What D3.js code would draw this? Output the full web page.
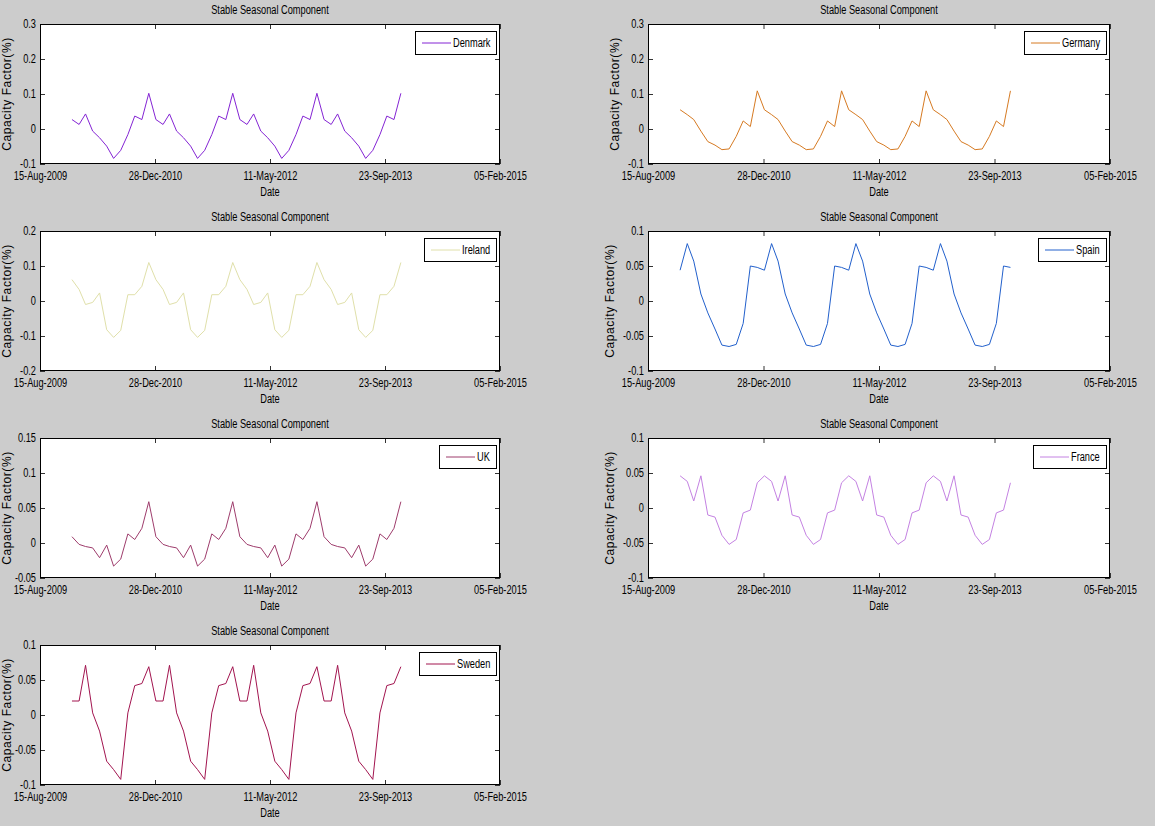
<!DOCTYPE html>
<html>
<head>
<meta charset="utf-8">
<script src="https://cdn.jsdelivr.net/npm/d3@7"></script>
<style>
  html, body { margin: 0; padding: 0; background: #cccccc; }
  svg { display: block; }
</style>
</head>
<body>
<svg id="chart" width="1155" height="826"></svg>
<script>
// ---------------- DATA ----------------
const countries = ["Denmark", "Germany", "Ireland", "Spain", "UK", "France", "Sweden"];
const seriesColors = ["#8424d4", "#d67a22", "#e0e0aa", "#2260cc", "#9e3c6c", "#c482e2", "#a2144f"];

// Monthly stable seasonal component, Jan 2010 .. Dec 2013 (48 months)
const denmark = [
  0.027, 0.013, 0.043, -0.006, -0.025, -0.049, -0.084, -0.061, -0.016, 0.037, 0.027, 0.102,
  0.027, 0.013, 0.043, -0.006, -0.025, -0.049, -0.084, -0.061, -0.016, 0.037, 0.027, 0.102,
  0.027, 0.013, 0.043, -0.006, -0.025, -0.049, -0.084, -0.061, -0.016, 0.037, 0.027, 0.102,
  0.027, 0.013, 0.043, -0.006, -0.025, -0.049, -0.084, -0.061, -0.016, 0.037, 0.027, 0.102];
const germany = [
  0.055, 0.041, 0.027, -0.006, -0.036, -0.046, -0.059, -0.057, -0.021, 0.023, 0.007, 0.109,
  0.055, 0.041, 0.027, -0.006, -0.036, -0.046, -0.059, -0.057, -0.021, 0.023, 0.007, 0.109,
  0.055, 0.041, 0.027, -0.006, -0.036, -0.046, -0.059, -0.057, -0.021, 0.023, 0.007, 0.109,
  0.055, 0.041, 0.027, -0.006, -0.036, -0.046, -0.059, -0.057, -0.021, 0.023, 0.007, 0.109];
const ireland = [
  0.061, 0.033, -0.010, -0.004, 0.023, -0.082, -0.104, -0.084, 0.018, 0.018, 0.042, 0.110,
  0.061, 0.033, -0.010, -0.004, 0.023, -0.082, -0.104, -0.084, 0.018, 0.018, 0.042, 0.110,
  0.061, 0.033, -0.010, -0.004, 0.023, -0.082, -0.104, -0.084, 0.018, 0.018, 0.042, 0.110,
  0.061, 0.033, -0.010, -0.004, 0.023, -0.082, -0.104, -0.084, 0.018, 0.018, 0.042, 0.110];
const spain = [
  0.044, 0.082, 0.057, 0.010, -0.017, -0.040, -0.063, -0.065, -0.062, -0.032, 0.050, 0.048,
  0.044, 0.082, 0.057, 0.010, -0.017, -0.040, -0.063, -0.065, -0.062, -0.032, 0.050, 0.048,
  0.044, 0.082, 0.057, 0.010, -0.017, -0.040, -0.063, -0.065, -0.062, -0.032, 0.050, 0.048,
  0.044, 0.082, 0.057, 0.010, -0.017, -0.040, -0.063, -0.065, -0.062, -0.032, 0.050, 0.048];
const uk = [
  0.009, -0.002, -0.005, -0.007, -0.021, -0.003, -0.033, -0.023, 0.013, 0.005, 0.021, 0.059,
  0.009, -0.002, -0.005, -0.007, -0.021, -0.003, -0.033, -0.023, 0.013, 0.005, 0.021, 0.059,
  0.009, -0.002, -0.005, -0.007, -0.021, -0.003, -0.033, -0.023, 0.013, 0.005, 0.021, 0.059,
  0.009, -0.002, -0.005, -0.007, -0.021, -0.003, -0.033, -0.023, 0.013, 0.005, 0.021, 0.059];
const france = [
  0.046, 0.038, 0.010, 0.046, -0.010, -0.013, -0.039, -0.052, -0.045, -0.007, -0.003, 0.036,
  0.046, 0.038, 0.010, 0.046, -0.010, -0.013, -0.039, -0.052, -0.045, -0.007, -0.003, 0.036,
  0.046, 0.038, 0.010, 0.046, -0.010, -0.013, -0.039, -0.052, -0.045, -0.007, -0.003, 0.036,
  0.046, 0.038, 0.010, 0.046, -0.010, -0.013, -0.039, -0.052, -0.045, -0.007, -0.003, 0.036];
const sweden = [
  0.020, 0.020, 0.071, 0.003, -0.023, -0.066, -0.078, -0.092, 0.003, 0.042, 0.045, 0.069,
  0.020, 0.020, 0.071, 0.003, -0.023, -0.066, -0.078, -0.092, 0.003, 0.042, 0.045, 0.069,
  0.020, 0.020, 0.071, 0.003, -0.023, -0.066, -0.078, -0.092, 0.003, 0.042, 0.045, 0.069,
  0.020, 0.020, 0.071, 0.003, -0.023, -0.066, -0.078, -0.092, 0.003, 0.042, 0.045, 0.069];
const seriesValues = [denmark, germany, ireland, spain, uk, france, sweden];

const firstMonth = "2010-01-01";
const lastMonthExclusive = "2014-01-01";

const xTickDates = ["2009-08-15", "2010-12-28", "2012-05-11", "2013-09-23", "2015-02-05"];
const xTickLabels = ["15-Aug-2009", "28-Dec-2010", "11-May-2012", "23-Sep-2013", "05-Feb-2015"];

const yDomains = [[-0.1, 0.3], [-0.1, 0.3], [-0.2, 0.2], [-0.1, 0.1], [-0.05, 0.15], [-0.1, 0.1], [-0.1, 0.1]];
const yTickValues = [
  [-0.1, 0, 0.1, 0.2, 0.3],
  [-0.1, 0, 0.1, 0.2, 0.3],
  [-0.2, -0.1, 0, 0.1, 0.2],
  [-0.1, -0.05, 0, 0.05, 0.1],
  [-0.05, 0, 0.05, 0.1, 0.15],
  [-0.1, -0.05, 0, 0.05, 0.1],
  [-0.1, -0.05, 0, 0.05, 0.1]];
const yTickLabels = [
  ["-0.1", "0", "0.1", "0.2", "0.3"],
  ["-0.1", "0", "0.1", "0.2", "0.3"],
  ["-0.2", "-0.1", "0", "0.1", "0.2"],
  ["-0.1", "-0.05", "0", "0.05", "0.1"],
  ["-0.05", "0", "0.05", "0.1", "0.15"],
  ["-0.1", "-0.05", "0", "0.05", "0.1"],
  ["-0.1", "-0.05", "0", "0.05", "0.1"]];

const titleText = "Stable Seasonal Component";
const xLabelText = "Date";
const yLabelText = "Capacity Factor(%)";

// ---------------- LAYOUT ----------------
const colX = [[40, 500], [648, 1110]];
const rowTop = [24, 231, 438, 645];
const plotH = 140;
const FONT = "'Liberation Sans', Arial, sans-serif";
const SQUEEZE = 0.77;   // mimic the narrow UI font of the original

function condense(sel) {
  sel.each(function () {
    const w = this.getComputedTextLength();
    d3.select(this).attr("textLength", w * SQUEEZE).attr("lengthAdjust", "spacingAndGlyphs");
  });
  return sel;
}

const parse = d3.utcParse("%Y-%m-%d");
const dates = d3.utcMonth.range(parse(firstMonth), parse(lastMonthExclusive));
const xTicks = xTickDates.map(parse);

const svg = d3.select("#chart");

countries.forEach((name, i) => {
  const col = i % 2, row = Math.floor(i / 2);
  const [x0, x1] = colX[col];
  const y0 = rowTop[row], y1 = y0 + plotH;

  const x = d3.scaleUtc().domain([xTicks[0], xTicks[xTicks.length - 1]]).range([x0, x1]);
  const y = d3.scaleLinear().domain(yDomains[i]).range([y1, y0]);

  const g = svg.append("g");

  g.append("rect").attr("x", x0).attr("y", y0).attr("width", x1 - x0).attr("height", plotH)
    .attr("fill", "#ffffff");

  // title
  condense(g.append("text").attr("x", (x0 + x1) / 2).attr("y", y0 - 10)
    .attr("text-anchor", "middle").attr("font-family", FONT).attr("font-size", 12)
    .attr("fill", "#000").text(titleText));

  const fmtX = (d, k) => xTickLabels[k];
  const fmtY = (d, k) => yTickLabels[i][k];

  const axB = g.append("g").attr("transform", `translate(0,${y1})`)
    .call(d3.axisBottom(x).tickValues(xTicks).tickSizeInner(-5).tickSizeOuter(0).tickPadding(7).tickFormat(fmtX));
  const axT = g.append("g").attr("transform", `translate(0,${y0})`)
    .call(d3.axisTop(x).tickValues(xTicks).tickSizeInner(-5).tickSizeOuter(0).tickFormat(""));
  const axL = g.append("g").attr("transform", `translate(${x0},0)`)
    .call(d3.axisLeft(y).tickValues(yTickValues[i]).tickSizeInner(-5).tickSizeOuter(0).tickPadding(4).tickFormat(fmtY));
  const axR = g.append("g").attr("transform", `translate(${x1},0)`)
    .call(d3.axisRight(y).tickValues(yTickValues[i]).tickSizeInner(-5).tickSizeOuter(0).tickFormat(""));

  [axB, axT, axL, axR].forEach(a => {
    a.select(".domain").remove();
    a.selectAll(".tick line").attr("stroke", "#333333").attr("stroke-width", 1);
    a.selectAll("text").attr("font-family", FONT).attr("font-size", 12).attr("fill", "#000");
  });
  condense(axB.selectAll("text"));
  condense(axL.selectAll("text"));

  // series line
  const line = d3.line().x((d, k) => x(dates[k])).y(d => y(d));
  g.append("path").datum(seriesValues[i])
    .attr("d", line).attr("fill", "none")
    .attr("stroke", seriesColors[i]).attr("stroke-width", 1);

  // box
  g.append("rect").attr("x", x0 + 0.5).attr("y", y0 + 0.5)
    .attr("width", x1 - x0 - 1).attr("height", plotH - 1)
    .attr("fill", "none").attr("stroke", "#000").attr("stroke-width", 1);

  // x label
  condense(g.append("text").attr("x", (x0 + x1) / 2).attr("y", y1 + 32)
    .attr("text-anchor", "middle").attr("font-family", FONT).attr("font-size", 12)
    .attr("fill", "#000").text(xLabelText));

  // y label, left of the widest tick label
  let maxW = 0;
  axL.selectAll("text").each(function () { maxW = Math.max(maxW, +this.getAttribute("textLength")); });
  const tickLeft = x0 - 4 - maxW;
  const ylx = Math.max(tickLeft - 9, 11);
  g.append("text")
    .attr("transform", `translate(${ylx},${(y0 + y1) / 2}) rotate(-90)`)
    .attr("text-anchor", "middle")
    .attr("font-family", FONT).attr("font-size", 12).attr("letter-spacing", 0.6)
    .attr("fill", "#000").text(yLabelText);

  // legend
  const lg = g.append("g");
  const lt = lg.append("text").attr("font-family", FONT).attr("font-size", 12)
    .attr("fill", "#000").text(name);
  condense(lt);
  const tw = +lt.attr("textLength");
  const boxW = Math.round(7 + 29 + 2 + tw + 6), boxH = 23;
  const bx = x1 - 4 - boxW, by = y0 + 7;
  lg.insert("rect", "text").attr("x", bx + 0.5).attr("y", by + 0.5).attr("width", boxW).attr("height", boxH)
    .attr("fill", "#fff").attr("stroke", "#000").attr("stroke-width", 1);
  lg.append("line").attr("x1", bx + 7).attr("x2", bx + 36)
    .attr("y1", by + boxH / 2 + 0.5).attr("y2", by + boxH / 2 + 0.5)
    .attr("stroke", seriesColors[i]).attr("stroke-width", 1);
  lt.attr("x", bx + 38).attr("y", by + boxH / 2 + 4.5);
});
</script>
</body>
</html>
